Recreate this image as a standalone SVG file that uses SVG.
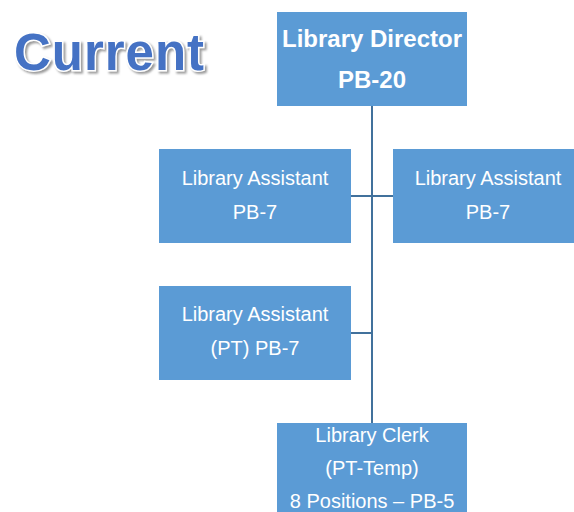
<svg xmlns="http://www.w3.org/2000/svg" width="574" height="512" viewBox="0 0 574 512">
<defs>
<filter id="sh" x="-10%" y="-20%" width="130%" height="150%">
<feDropShadow dx="2" dy="2" stdDeviation="0.8" flood-color="#9a9a9a" flood-opacity="1"/>
</filter>
</defs>
<style>
.box{fill:#5B9BD5;}
.t{font-family:"Liberation Sans",Arial,sans-serif;fill:#fff;text-anchor:middle;font-size:20px;}
.tb{font-family:"Liberation Sans",Arial,sans-serif;fill:#fff;text-anchor:middle;font-size:24px;font-weight:bold;}
.ln{stroke:#41719C;stroke-width:2;fill:none;}
.title{font-family:"Liberation Sans",Arial,sans-serif;font-weight:bold;font-size:51px;}
</style>
<rect width="574" height="512" fill="#fff"/>
<g id="title">
<text class="title" x="14" y="70" textLength="190" fill="#4472C4" stroke="#fff" stroke-width="3" paint-order="stroke" filter="url(#sh)">Current</text>
</g>
<g id="connectors">
<line class="ln" x1="372" y1="106" x2="372" y2="423"/>
<line class="ln" x1="351" y1="196" x2="393" y2="196"/>
<line class="ln" x1="351" y1="333" x2="372" y2="333"/>
</g>
<g id="director">
<rect class="box" x="277" y="12" width="190" height="94"/>
<text class="tb" x="372" y="47">Library Director</text>
<text class="tb" x="372" y="88">PB-20</text>
</g>
<g id="assistant1">
<rect class="box" x="159" y="149" width="192" height="94"/>
<text class="t" x="255" y="185">Library Assistant</text>
<text class="t" x="255" y="219">PB-7</text>
</g>
<g id="assistant2">
<rect class="box" x="393" y="149" width="190" height="94"/>
<text class="t" x="488" y="185">Library Assistant</text>
<text class="t" x="488" y="219">PB-7</text>
</g>
<g id="assistant3">
<rect class="box" x="159" y="286" width="192" height="94"/>
<text class="t" x="255" y="321">Library Assistant</text>
<text class="t" x="255" y="355">(PT) PB-7</text>
</g>
<g id="clerk">
<rect class="box" x="277" y="423" width="190" height="94"/>
<text class="t" x="372" y="442">Library Clerk</text>
<text class="t" x="372" y="475">(PT-Temp)</text>
<text class="t" x="372" y="508">8 Positions – PB-5</text>
</g>
</svg>
